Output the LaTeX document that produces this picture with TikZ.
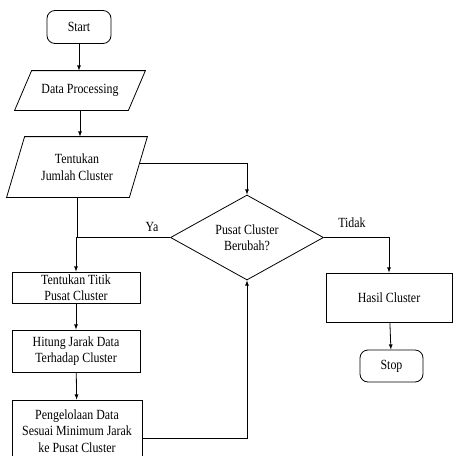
\documentclass[tikz,border=0pt]{standalone}
\usepackage{fontspec}
\setmainfont{Liberation Serif}[FakeStretch=0.85]
\usepackage{tikz}
\usetikzlibrary{arrows,shapes.geometric}

\tikzset{
  terminal/.style={draw, rounded corners=8pt, align=center, inner sep=0pt},
  io/.style={rectangle, align=center, inner sep=0pt},
  process/.style={draw, rectangle, align=center, inner sep=0pt},
  decision/.style={draw, diamond, aspect=1.8, align=center, inner sep=0pt},
  line/.style={draw, -latex}
}
% parallelogram round an io node: #1 node, #2 slant
\newcommand{\iodraw}[2]{%
  \draw ([xshift=#2]#1.north west) -- (#1.north east)
    -- ([xshift=-#2]#1.south east) -- (#1.south west) -- cycle;}

\begin{document}
\begin{tikzpicture}[x=1pt, y=-1pt, line width=0.8pt,
    font=\fontsize{14}{16.5}\selectfont]
	\clip (0,0) rectangle (453,456);
	\fill[white] (0,0) rectangle (453,456);

	\node[terminal, minimum width=64pt, minimum height=33pt] (start) at (79,27) {Start};
	\node[io, minimum width=130pt, minimum height=39pt] (dp) at (80,90.5) {Data Processing};
	\iodraw{dp}{17pt}
	\node[io, minimum width=140pt, minimum height=60pt] (jml) at (77,167) {Tentukan\\Jumlah Cluster};
	\iodraw{jml}{18pt}
	\node[decision, minimum width=153pt, minimum height=85pt] (pusat) at (247,237.5) {Pusat Cluster\\Berubah?};

	\node[process, minimum width=128pt, minimum height=31pt] (titik) at (76,287.5) {Tentukan Titik\\Pusat Cluster};
	\node[process, minimum width=128pt, minimum height=42pt] (hitung) at (76,351) {Hitung Jarak Data\\Terhadap Cluster};
	\node[process, minimum width=130pt, minimum height=62pt] (kelola) at (77,431) {Pengelolaan Data\\Sesuai Minimum Jarak\\ke Pusat Cluster};

	\node[process, minimum width=126pt, minimum height=49pt] (hasil) at (389,297.5) {Hasil Cluster};
	\node[terminal, minimum width=63pt, minimum height=32pt] (stop) at (391.5,366) {Stop};

	\coordinate (jmlout) at ([xshift=-7.8pt, yshift=4pt]jml.east);
	\coordinate (kelolaout) at ([yshift=-7pt]kelola.east);

	\draw[line] (start) -- (start |- dp.north);
	\draw[line] (dp.south) -- (dp.south |- jml.north);
	\draw[line] (jmlout) -| (pusat.north);

	% cabang ya
	\draw (jml.south) -- (jml.south |- pusat.west);
	\draw[line] (pusat.west) -| (titik.north);
	\node at (152,227) {Ya};

	\draw[line] (titik) -- (hitung);
	\draw[line] (hitung) -- (kelola);
	\draw[line] (kelolaout) -| (pusat.south);

	% cabang tidak
	\draw[line] (pusat.east) -| (hasil.north);
	\node at (352,223) {Tidak};
	\draw[line] (hasil) -- (stop);
\end{tikzpicture}
\end{document}
